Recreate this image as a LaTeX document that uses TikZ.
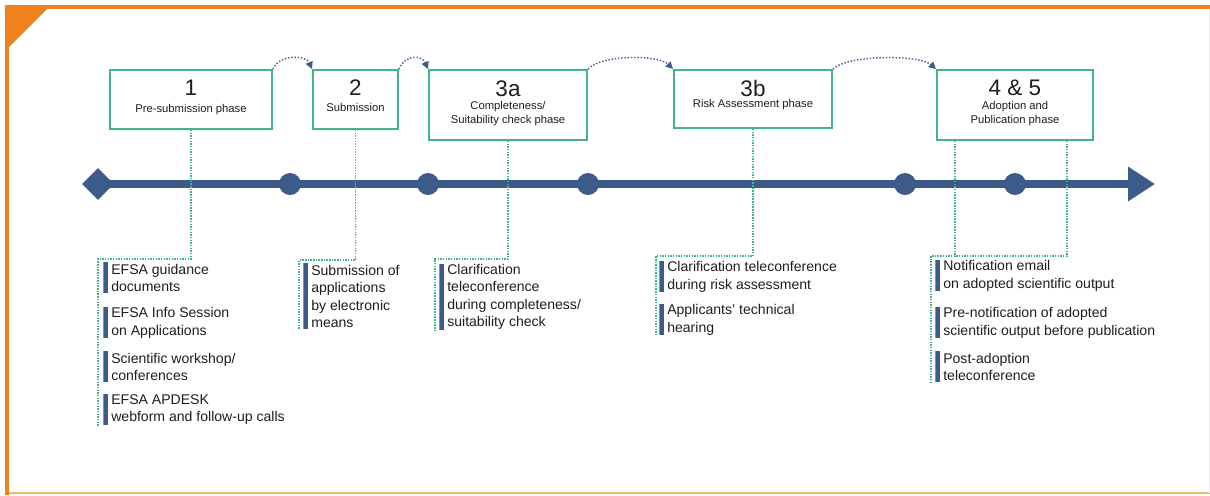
\documentclass[tikz,border=0pt]{standalone}
\usepackage{fontspec}
\setmainfont{Liberation Sans}
\usepackage{xcolor}
\usetikzlibrary{arrows.meta,positioning,shapes.geometric,backgrounds}
\definecolor{frameorange}{RGB}{240,130,30}
\definecolor{paleorange} {RGB}{250,182,110}
\definecolor{phasegreen} {RGB}{64,181,141}
\definecolor{axisblue}   {RGB}{60,90,138}
\definecolor{inktext}    {RGB}{30,30,30}

\begin{document}
\begin{tikzpicture}[
  x=0.025cm, y=-0.025cm, >=Stealth,
  phase/.style={draw=phasegreen, line width=1.4pt, fill=white, inner sep=0pt},
  num/.style={font=\fontsize{16}{18}\selectfont, text=inktext, inner sep=0pt},
  sub/.style={font=\fontsize{8}{10}\selectfont, text=inktext, align=center, inner sep=0pt},
  dot/.style={circle, fill=axisblue, minimum size=0.55cm, inner sep=0pt},
  tlstart/.style={diamond, fill=axisblue, minimum size=0.8cm, inner sep=0pt},
  timeline/.style={draw=axisblue, line width=0.19cm,
    -{Triangle[length=0.675cm, width=0.825cm]}},
  hop/.style={draw=axisblue, line width=1pt, dash pattern=on 1pt off 1.3pt,
    -{Triangle[length=0.18cm, width=0.18cm]}},
  conn/.style={draw=phasegreen, line width=1pt, dash pattern=on 1pt off 0.9pt},
  itm/.style={anchor=north west, align=left, inner xsep=0.2cm, inner ysep=0pt,
    minimum height=0.775cm, font=\fontsize{10}{12.4}\selectfont, text=inktext,
    path picture={\fill[axisblue] (path picture bounding box.north west)
      rectangle ([xshift=0.11cm]path picture bounding box.south west);}},
]
\useasboundingbox (0,0) rectangle (1210,495);

% Frame
\fill[frameorange] (5,5) rectangle (1210,9);
\fill[frameorange] (5,5) rectangle (9,495);
\fill[frameorange] (5,5) -- (51,5) -- (5,51) -- cycle;
\draw[paleorange, line width=1pt] (9,493) -- (1210,493);
\draw[black!8, line width=0.5pt] (1209,9) -- (1209,493);

% Phase boxes
\node[phase, minimum width=4.05cm, minimum height=1.475cm] (b1)  at (191,99.5)   {};
\node[phase, minimum width=2.125cm, minimum height=1.475cm] (b2) at (355.5,99.5) {};
\node[phase, minimum width=3.95cm, minimum height=1.75cm]  (b3a) at (508,105)    {};
\node[phase, minimum width=3.95cm, minimum height=1.45cm]  (b3b) at (753,99)     {};
\node[phase, minimum width=3.9cm,  minimum height=1.75cm]  (b45) at (1015,105)   {};

\node[num] (n1)  at (191,88)   {1};
\node[num] (n2)  at (355.5,88) {2};
\node[num] (n3a) at (508,89)   {3a};
\node[num] (n3b) at (753,88)   {3b};
\node[num] (n45) at (1015,88)  {4 \& 5};

\node[sub] (s1)  at (191,110)   {Pre-submission phase};
\node[sub] (s2)  at (355.5,107) {Submission};
\node[sub] (s3a) at (508,114)   {Completeness/\\Suitability check phase};
\node[sub] (s3b) at (753,105)   {Risk Assessment phase};
\node[sub] (s45) at (1015,114)  {Adoption and\\Publication phase};

% Hops between phases
\draw[hop] (b1.north east)  .. controls +(6,-15)  and +(-6,-14)  .. (b2.north west);
\draw[hop] (b2.north east)  .. controls +(6,-15)  and +(-6,-14)  .. (b3a.north west);
\draw[hop] (b3a.north east) .. controls +(14,-15) and +(-14,-14) .. (b3b.north west);
\draw[hop] (b3b.north east) .. controls +(16,-15) and +(-16,-14) .. (b45.north west);

% Time axis
\node[tlstart] (d0) at (98,184) {};
\foreach \x [count=\i] in {290,428,588,905,1015}{ \node[dot] (t\i) at (\x,184) {}; }
\coordinate (tend) at (1155,184);
\begin{scope}[on background layer]
  \draw[timeline] (d0.center) -- (tend);
\end{scope}

% Activities per phase
\node[itm] (i11) at (103,262) {EFSA guidance\\documents};
\node[itm] (i12) at (103,307) {EFSA Info Session\\on Applications};
\node[itm] (i13) at (103,351) {Scientific workshop/\\conferences};
\node[itm] (i14) at (103,394) {EFSA APDESK\\webform and follow-up calls};

\node[itm, minimum height=1.65cm] (i21) at (303,263) {Submission of\\applications\\by electronic\\means};

\node[itm, minimum height=1.625cm] (i31) at (439,264) {Clarification\\teleconference\\during completeness/\\suitability check};

\node[itm] (i41) at (659,261) {Clarification teleconference\\during risk assessment};
\node[itm] (i42) at (659,304) {Applicants' technical\\hearing};

\node[itm] (i51) at (935,260) {Notification email\\on adopted scientific output};
\node[itm] (i52) at (935,307) {Pre-notification of adopted\\scientific output before publication};
\node[itm] (i53) at (935,351) {Post-adoption\\teleconference};

% Dotted links from boxes to activities
\coordinate (k1) at (98,259);
\coordinate (k2) at (299,260);
\coordinate (k3) at (435,259);
\coordinate (k4) at (656,256);
\coordinate (k5) at (931,256);
\draw[conn] (b1.south)  |- (k1) -- (k1 |- i14.south);
\draw[conn] (b2.south)  |- (k2) -- (k2 |- i21.south);
\draw[conn] (b3a.south) |- (k3) -- (k3 |- i31.south);
\draw[conn] (b3b.south) |- (k4) -- (k4 |- i42.south);
\coordinate (p5a) at ([xshift=-1.5cm]b45.south);
\coordinate (p5b) at ([xshift=1.3cm]b45.south);
\draw[conn] (p5b) |- (k5) -- (k5 |- i53.south);
\draw[conn] (p5a) -- (p5a |- k5);

\end{tikzpicture}
\end{document}
